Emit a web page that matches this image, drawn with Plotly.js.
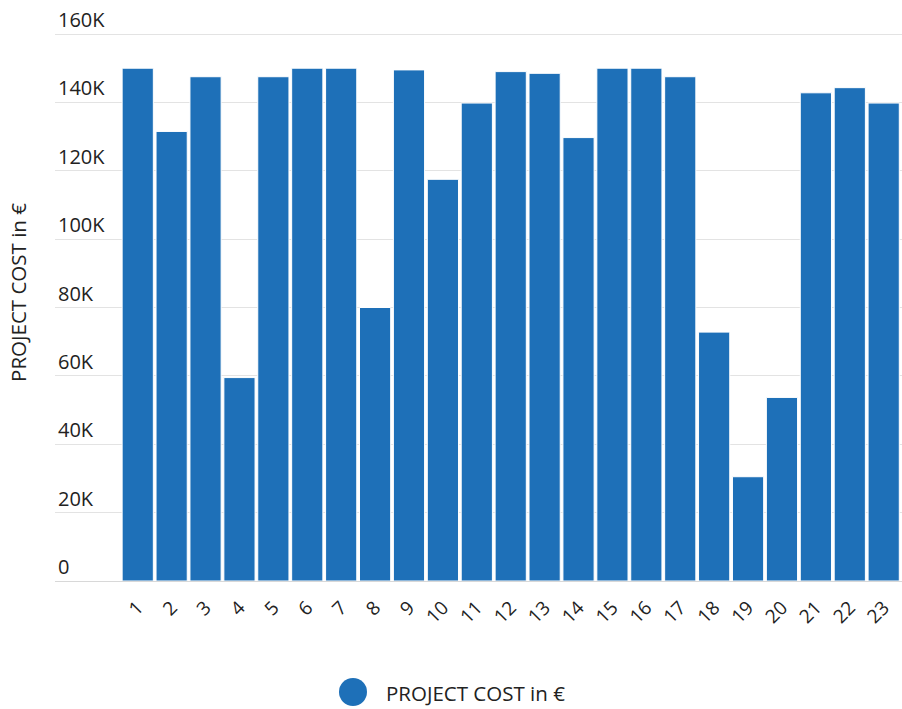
<!DOCTYPE html>
<html>
<head>
<meta charset="utf-8">
<script src="https://cdn.plot.ly/plotly-3.0.1.min.js"></script>
<style>html,body{margin:0;padding:0;background:#fff;}#chart{width:902px;height:709px;}</style>
</head>
<body>
<div id="chart"></div>
<script>
var categories = ['1','2','3','4','5','6','7','8','9','10','11','12','13','14','15','16','17','18','19','20','21','22','23'];
var projectCost = [150000,131500,147500,59500,147500,150000,150000,80000,149500,117500,139800,149000,148500,129700,150000,150000,147500,72800,30500,53700,142800,144300,139800];
var yTickVals = [0,20000,40000,60000,80000,100000,120000,140000,160000];
var yTickText = ['0','20K','40K','60K','80K','100K','120K','140K','160K'];
var seriesName = 'PROJECT COST in €';
var barColor = '#1e70b8';

var trace = {
  type: 'bar',
  x: categories,
  y: projectCost,
  name: seriesName,
  marker: {color: barColor, line: {color: '#ffffff', width: 1}},
  showlegend: false,
  hoverinfo: 'x+y'
};

var layout = {
  width: 902, height: 709,
  margin: {l: 55, r: 0, t: 4, b: 128},
  paper_bgcolor: '#ffffff', plot_bgcolor: '#ffffff',
  font: {family: '"Open Sans", sans-serif', color: '#333333', size: 20},
  bargap: 0.08,
  showlegend: false,
  xaxis: {
    type: 'category',
    range: [-2.44, 22.54],
    tickangle: -45,
    tickfont: {size: 19, color: '#222222'},
    showgrid: false,
    showline: true, linecolor: '#d8d8d8', linewidth: 1,
    ticks: '', ticklen: 0,
    ticklabelstandoff: 7,
    zeroline: false
  },
  yaxis: {
    range: [0, 168775],
    tickvals: yTickVals,
    ticktext: yTickText,
    ticklabelposition: 'inside top',
    tickfont: {size: 20, color: '#222222'},
    showgrid: true, gridcolor: '#e3e3e3', gridwidth: 1,
    zeroline: false,
    showline: false,
    ticks: '',
    title: {text: seriesName, font: {size: 20.5, color: '#222222'}, standoff: 25}
  },
  shapes: [{
    type: 'circle', xref: 'paper', yref: 'paper',
    xsizemode: 'pixel', ysizemode: 'pixel',
    xanchor: (353 - 55) / 847, yanchor: (581 - 692) / 577,
    x0: -14, x1: 14, y0: -14, y1: 14,
    fillcolor: barColor, line: {width: 0}
  }],
  annotations: [{
    xref: 'paper', yref: 'paper',
    x: (384 - 55) / 847, y: (581 - 693) / 577,
    xanchor: 'left', yanchor: 'middle',
    text: seriesName, showarrow: false,
    font: {size: 20.5, color: '#222222'}
  }]
};

Plotly.newPlot('chart', [trace], layout, {displayModeBar: false, staticPlot: true});
</script>
</body>
</html>
